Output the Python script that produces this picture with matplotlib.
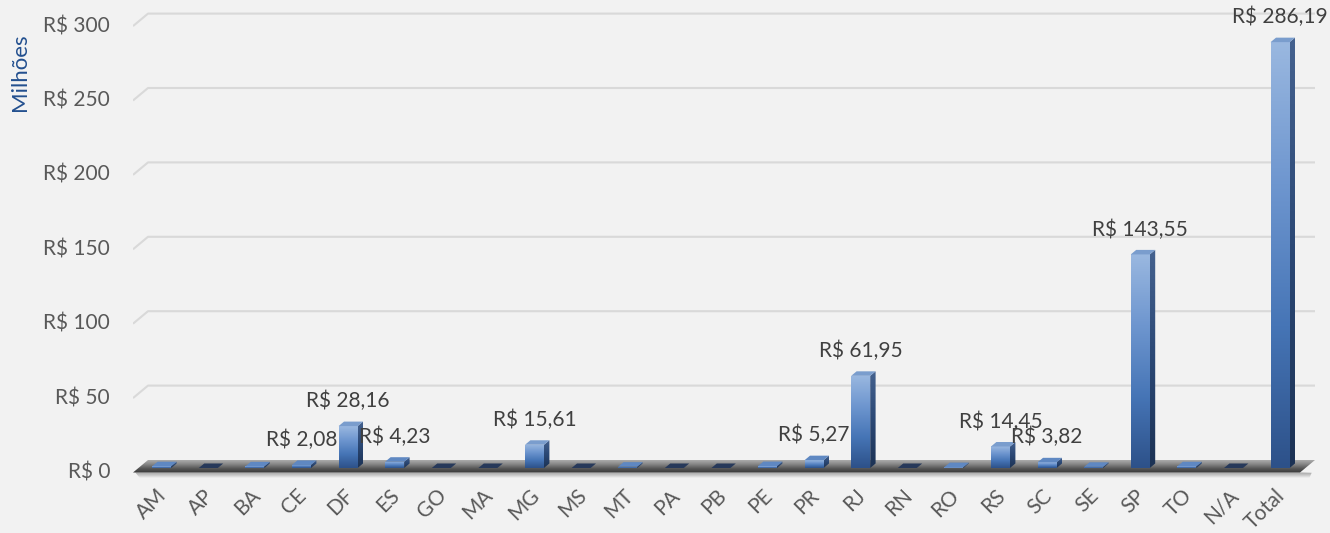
import numpy as np
import matplotlib
matplotlib.use("Agg")
import matplotlib.pyplot as plt
from matplotlib.patches import Polygon
from matplotlib.colors import LinearSegmentedColormap
from matplotlib.transforms import offset_copy

# ---- data (R$ milhões) ----
states = ["AM", "AP", "BA", "CE", "DF", "ES", "GO", "MA", "MG", "MS", "MT", "PA",
          "PB", "PE", "PR", "RJ", "RN", "RO", "RS", "SC", "SE", "SP", "TO", "N/A", "Total"]
values = [1.20, 0.0, 1.10, 2.08, 28.16, 4.23, 0.0, 0.0, 15.61, 0.0, 0.90, 0.0,
          0.0, 1.30, 5.27, 61.95, 0.0, 0.60, 14.45, 3.82, 0.80, 143.55, 1.17, 0.0, 286.19]
yticks = [0, 50, 100, 150, 200, 250, 300]
label_min = 2.0  # data labels are shown for values from this amount up

# ---- figure geometry ----
W, H, DPI = 1330, 533, 100
PX_CAT, PX_VAL = 46.6, 1.488     # pixels per category / per value unit
LEFT_PX, ZERO_PX = 133, 60.5     # floor front-left corner, zero level from bottom
DX, DY = 15 / PX_CAT, 12.5 / PX_VAL   # depth offset of the back wall
D0, D1 = 0.36, 0.72              # depth range occupied by the bars
BAR_W = 19 / PX_CAT
XL, XR = -0.5, -0.5 + (1300 - LEFT_PX) / PX_CAT

BG = "#F2F2F2"
TXT = "#595959"
FONT = "Lato"
FS = 15

fig = plt.figure(figsize=(W / DPI, H / DPI), dpi=DPI, facecolor=BG)
ax = fig.add_axes([LEFT_PX / W, 0, 1 - LEFT_PX / W, 1])
ax.set_facecolor(BG)
ax.axis("off")
xlim = (XL, XL + (W - LEFT_PX) / PX_CAT)
ylim = (-ZERO_PX / PX_VAL, (H - ZERO_PX) / PX_VAL)


def grad_fill(patch, colors, extent, z):
    """Fill a patch with a vertical gradient (colors listed bottom to top)."""
    cmap = LinearSegmentedColormap.from_list("g", colors)
    img = ax.imshow(np.linspace(0, 1, 256).reshape(-1, 1), cmap=cmap, extent=extent,
                    origin="lower", aspect="auto", zorder=z, interpolation="bilinear")
    img.set_clip_path(patch)


# ---- gridlines on the back wall with the perspective side segment ----
for v in yticks[1:]:
    ax.plot([XL, XL + DX, XR + DX], [v, v + DY, v + DY], color="#D9D9D9",
            lw=1.5, solid_capstyle="butt", zorder=1)

# ---- floor and its shadow ----
shadow = Polygon([(XL + 0.05, 0), (XR + 0.05, 0), (XR + 0.25, -0.2), (XR + 0.2, -3.8),
                  (XL + 0.15, -3.8)], closed=True, fc="none", ec="none", zorder=2)
ax.add_patch(shadow)
grad_fill(shadow, [BG, "#C6C6C6", "#A4A4A4"], (XL, XR + 0.3, -3.8, 0), 2)

floor = Polygon([(XL, 0), (XR, 0), (XR + DX, DY), (XL + DX, DY)], closed=True,
                fc="none", ec="none", zorder=3)
ax.add_patch(floor)
grad_fill(floor, ["#383838", "#545454", "#858585", "#ABABAB"], (XL, XR + DX, 0, DY), 3)

# ---- 3D-looking bars ----
dd = D1 - D0
base = D0 * DY
front_cols = ["#2D5189", "#4675B6", "#6E96CF", "#9AB8E0"]
side_cols = ["#1C3254", "#2B4875", "#45628F"]
bars = ax.bar(np.arange(len(states)) + D0 * DX, values, width=BAR_W, bottom=base,
              color="none", edgecolor="none", zorder=4)
for i, (rect, v) in enumerate(zip(bars, values)):
    xl = rect.get_x()
    xr = xl + rect.get_width()
    top = base + v
    z = 4 + i * 0.01
    if v > 0:
        grad_fill(rect, front_cols, (xl, xr, base, top), z)
        side = Polygon([(xr, base), (xr + dd * DX, base + dd * DY),
                        (xr + dd * DX, top + dd * DY), (xr, top)], closed=True,
                       fc="none", ec="none", zorder=z)
        ax.add_patch(side)
        grad_fill(side, side_cols, (xr, xr + dd * DX, base, top + dd * DY), z)
        top_col = "#7A9DCD" if v > 10 else "#5F88C2"
    else:
        top_col = "#27395A"
    ax.add_patch(Polygon([(xl, top), (xr, top), (xr + dd * DX, top + dd * DY),
                          (xl + dd * DX, top + dd * DY)], closed=True, fc=top_col,
                         ec="none", zorder=z + 0.005))
    if v >= label_min:
        ax.annotate(f"R$ {v:.2f}".replace(".", ","), (xl + BAR_W / 2, top),
                    xytext=(0, 18), textcoords="offset points", ha="center",
                    va="center", fontsize=FS, color="#404040", family=FONT, zorder=10,
                    annotation_clip=False)

# ---- axis texts ----
ytr = offset_copy(ax.transData, fig=fig, x=-23, y=0, units="dots")
for v in yticks:
    ax.text(XL, v, f"R$ {v}", transform=ytr, ha="right", va="center",
            fontsize=FS, color=TXT, family=FONT)

xtr = offset_copy(ax.transData, fig=fig, x=2, y=-20, units="dots")
for i, s in enumerate(states):
    ax.text(i + D0 * DX, 0, s, transform=xtr, rotation=45, rotation_mode="anchor",
            ha="right", va="center", fontsize=FS, color=TXT, family=FONT)

fig.text(20 / W, 1 - 72 / H, "Milhões", rotation=90, ha="center", va="center",
         fontsize=16, color="#23508F", family=FONT)

ax.set_xlim(*xlim)
ax.set_ylim(*ylim)
fig.savefig("out.png", dpi=DPI, facecolor=BG)
